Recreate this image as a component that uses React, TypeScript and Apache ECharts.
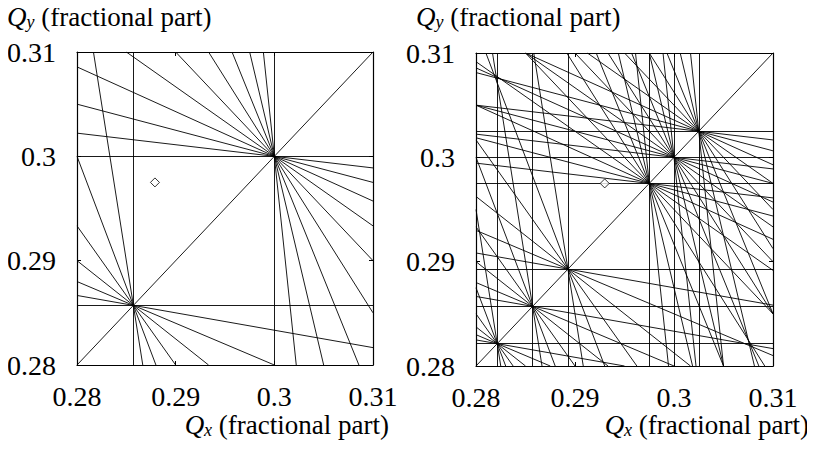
import React, { useEffect, useRef } from "react";
import * as echarts from "echarts";

// ---- data ----
const axisMin = 0.28;
const axisMax = 0.31;
const tickStep = 0.01;
const tickLabels = ["0.28", "0.29", "0.3", "0.31"];

// resonance families: m*Qx + n*Qy = p, with m + n = order
const order7Ms = [0, 1, 2, 3, 4, 5, 6, 7];
const order7P = 2;
const order10Ms = [0, 1, 2, 3, 4, 5, 6, 7, 8, 9, 10];
const order10P = 3;
// coupling (difference) line Qx - Qy = 0
const couplingLine = [1, -1, 0];
// synchrotron sidebands: m*Qx + n*Qy + l*Qs = p
const synchrotronTune = 0.025;
const sidebandsLeft = [0];
const sidebandsRight = [-1, 0, 1];
// working points (diamonds)
const workingPointLeft = [0.2879, 0.2975];
const workingPointRight = [0.293, 0.2975];

const FONT_A = "serif";
const FONT_B = "Times New Roman";

function clip(m: number, n: number, c: number): number[][] | null {
  const eps = 1e-9;
  const pts: number[][] = [];
  if (n !== 0) {
    for (const x of [axisMin, axisMax]) {
      const y = (c - m * x) / n;
      if (y >= axisMin - eps && y <= axisMax + eps) pts.push([x, y]);
    }
  }
  if (m !== 0) {
    for (const y of [axisMin, axisMax]) {
      const x = (c - n * y) / m;
      if (x >= axisMin - eps && x <= axisMax + eps) pts.push([x, y]);
    }
  }
  if (pts.length < 2) return null;
  let best: number[][] | null = null;
  let bd = -1;
  for (let i = 0; i < pts.length; i++)
    for (let j = i + 1; j < pts.length; j++) {
      const d = Math.hypot(pts[i][0] - pts[j][0], pts[i][1] - pts[j][1]);
      if (d > bd) {
        bd = d;
        best = [pts[i], pts[j]];
      }
    }
  return bd > 1e-7 ? best : null;
}

function buildLines(sidebands: number[]) {
  const out: { coords: number[][] }[] = [];
  const families = [
    { order: 7, p: order7P, ms: order7Ms },
    { order: 10, p: order10P, ms: order10Ms },
  ];
  for (const l of sidebands) {
    for (const f of families) {
      for (const m of f.ms) {
        const n = f.order - m;
        const c = f.p - l * synchrotronTune;
        const seg = clip(m, n, c);
        if (seg) out.push({ coords: seg });
      }
    }
  }
  const d = clip(couplingLine[0], couplingLine[1], couplingLine[2]);
  if (d) out.push({ coords: d });
  return out;
}

function labelFor(v: number) {
  const idx = Math.round((v - axisMin) / tickStep);
  return tickLabels[idx] ?? "";
}

export default function App() {
  const ref = useRef<HTMLDivElement>(null);
  useEffect(() => {
    if (!ref.current) return;
    const chart = echarts.init(ref.current, null, { renderer: "svg" });

    const grids = [
      { left: 77, top: 52, width: 296, height: 313 },
      { left: 476, top: 53, width: 297, height: 313 },
    ];

    const axisCommon = {
      type: "value",
      min: axisMin,
      max: axisMax,
      interval: tickStep,
      splitLine: { show: false },
      axisLine: { show: true, onZero: false, lineStyle: { color: "#000", width: 1.2 } },
      axisTick: { show: true, inside: true, length: 4, lineStyle: { color: "#000", width: 1 } },
    };
    const labelStyle = {
      color: "#000",
      fontFamily: FONT_A,
      fontSize: 28,
      lineHeight: 24,
      formatter: (v: number) => labelFor(v),
    };

    const xAxis: any[] = [];
    const yAxis: any[] = [];
    for (let g = 0; g < 2; g++) {
      xAxis.push({ ...axisCommon, gridIndex: g, position: "bottom", axisLabel: { ...labelStyle, margin: 19 } });
      xAxis.push({ ...axisCommon, gridIndex: g, position: "top", axisLabel: { show: false } });
      yAxis.push({ ...axisCommon, gridIndex: g, position: "left", axisLabel: { ...labelStyle, margin: 21 } });
      yAxis.push({ ...axisCommon, gridIndex: g, position: "right", axisLabel: { show: false } });
    }

    const lineStyle = { color: "#000", width: 0.9, opacity: 1 };
    const series: any[] = [
      {
        type: "lines",
        coordinateSystem: "cartesian2d",
        xAxisIndex: 0,
        yAxisIndex: 0,
        silent: true,
        lineStyle,
        data: buildLines(sidebandsLeft),
      },
      {
        type: "lines",
        coordinateSystem: "cartesian2d",
        xAxisIndex: 2,
        yAxisIndex: 2,
        silent: true,
        lineStyle,
        data: buildLines(sidebandsRight),
      },
      {
        type: "scatter",
        xAxisIndex: 0,
        yAxisIndex: 0,
        symbol: "diamond",
        symbolSize: 9,
        itemStyle: { color: "#fff", borderColor: "#000", borderWidth: 1 },
        data: [workingPointLeft],
        z: 5,
      },
      {
        type: "scatter",
        xAxisIndex: 2,
        yAxisIndex: 2,
        symbol: "diamond",
        symbolSize: 9,
        itemStyle: { color: "#fff", borderColor: "#000", borderWidth: 1 },
        data: [workingPointRight],
        z: 5,
      },
    ];

    const rich = {
      q: { fontFamily: FONT_B, fontStyle: "italic", fontSize: 27, lineHeight: 28, fill: "#000" },
      s: { fontFamily: FONT_B, fontStyle: "italic", fontSize: 18, lineHeight: 28, verticalAlign: "bottom", fill: "#000" },
      t: { fontFamily: FONT_B, fontSize: 27, lineHeight: 28, fill: "#000" },
    };
    const title = (x: number, y: number, sub: string, align: string) => ({
      type: "text",
      x,
      y,
      style: {
        text: `{q|Q}{s|${sub}}{t| (fractional part)}`,
        rich,
        fontFamily: FONT_B,
        fontSize: 27,
        align,
        verticalAlign: "top",
        fill: "#000",
      },
    });

    chart.setOption({
      animation: false,
      backgroundColor: "#fff",
      grid: grids,
      xAxis,
      yAxis,
      series,
      graphic: [
        title(7, 3, "y", "left"),
        title(416, 3, "y", "left"),
        title(389, 411, "x", "right"),
        title(809, 411, "x", "right"),
      ],
    });
    return () => chart.dispose();
  }, []);
  return <div ref={ref} style={{ width: 815, height: 449, margin: -8 }} />;
}
